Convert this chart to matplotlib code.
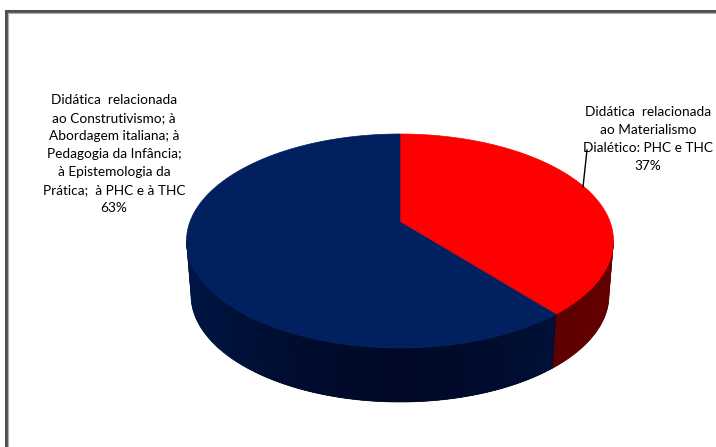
import matplotlib
matplotlib.use("Agg")
import matplotlib.pyplot as plt
import numpy as np
from matplotlib.patches import Polygon

# share of each group of didactic approaches (percent)
labels = [
    "Didática  relacionada\nao Materialismo\nDialético: PHC e THC\n37%",
    "Didática  relacionada\nao Construtivismo; à\nAbordagem italiana; à\nPedagogia da Infância;\nà Epistemologia da\nPrática;  à PHC e à THC\n63%",
]
values = [37, 63]
top_colors = ["#FF0000", "#002060"]
# wall shades: (front, side)
wall_colors = [("#560000", "#6A0000"), ("#000A28", "#001B52")]

W, H = 716, 447
fig = plt.figure(figsize=(W / 100, H / 100), dpi=100)
ax = fig.add_axes([0, 0, 1, 1])
ax.set_xlim(0, W)
ax.set_ylim(H, 0)
ax.axis("off")

# pie geometry in pixel space
cx, cy, rx, ry = 400, 241, 213.5, 107      # top rim ellipse
bcx, bcy, brx, bry = 400, 295, 209, 107    # bottom rim ellipse
pcx, pcy = 400, 222                         # projected pie centre


def rim(theta, bottom=False):
    # theta in degrees, clockwise from 12 o'clock
    t = np.radians(theta)
    if bottom:
        return bcx + brx * np.sin(t), bcy - bry * np.cos(t)
    return cx + rx * np.sin(t), cy - ry * np.cos(t)


def mix(c1, c2, f):
    a = np.array(matplotlib.colors.to_rgb(c1))
    b = np.array(matplotlib.colors.to_rgb(c2))
    return tuple(a * (1 - f) + b * f)


bounds = np.concatenate([[0], np.cumsum(values) / np.sum(values) * 360])

# side walls (only front half, 90..270 degrees, is visible)
for i in range(len(values)):
    a0, a1 = max(bounds[i], 90), min(bounds[i + 1], 270)
    if a1 <= a0:
        continue
    steps = np.linspace(a0, a1, int((a1 - a0) * 2) + 2)
    # solid base so the shaded strips leave no seams
    base = [rim(t) for t in steps] + [rim(t, True) for t in steps[::-1]]
    ax.add_patch(Polygon(base, closed=True, facecolor=wall_colors[i][0],
                         edgecolor=wall_colors[i][0], lw=0.5))
    for s0, s1 in zip(steps[:-1], steps[1:]):
        m = 0.5 * (s0 + s1)
        f = min(abs(m - 180) / 90, 1) ** 1.5
        col = mix(wall_colors[i][0], wall_colors[i][1], f)
        pts = [rim(s0), rim(s1 + 0.3), rim(s1 + 0.3, True), rim(s0, True)]
        ax.add_patch(Polygon(pts, closed=True, facecolor=col, lw=0))

# top faces
for i in range(len(values)):
    th = np.linspace(bounds[i], bounds[i + 1], 200)
    pts = [(pcx, pcy)] + [rim(t) for t in th]
    ax.add_patch(Polygon(pts, closed=True, facecolor=top_colors[i],
                         edgecolor=top_colors[i], lw=0.5))

# labels
font = dict(family="Lato", fontsize=9.8, color="black", ha="center", va="center",
            linespacing=1.6)
ax.text(648, 139.5, labels[0], **font)
ax.text(114, 154.5, labels[1], **font)
ax.plot([587, 583], [150, 187], color="black", lw=1)

# chart frame
ax.plot([6, 6, W + 5], [H + 5, 11, 11], color="#505050", lw=2.2, solid_joinstyle="miter")
ax.plot([8.2, 8.2, W + 5], [H + 5, 13.2, 13.2], color="#B0B0B0", lw=0.9)

fig.savefig("out.png", dpi=100)
